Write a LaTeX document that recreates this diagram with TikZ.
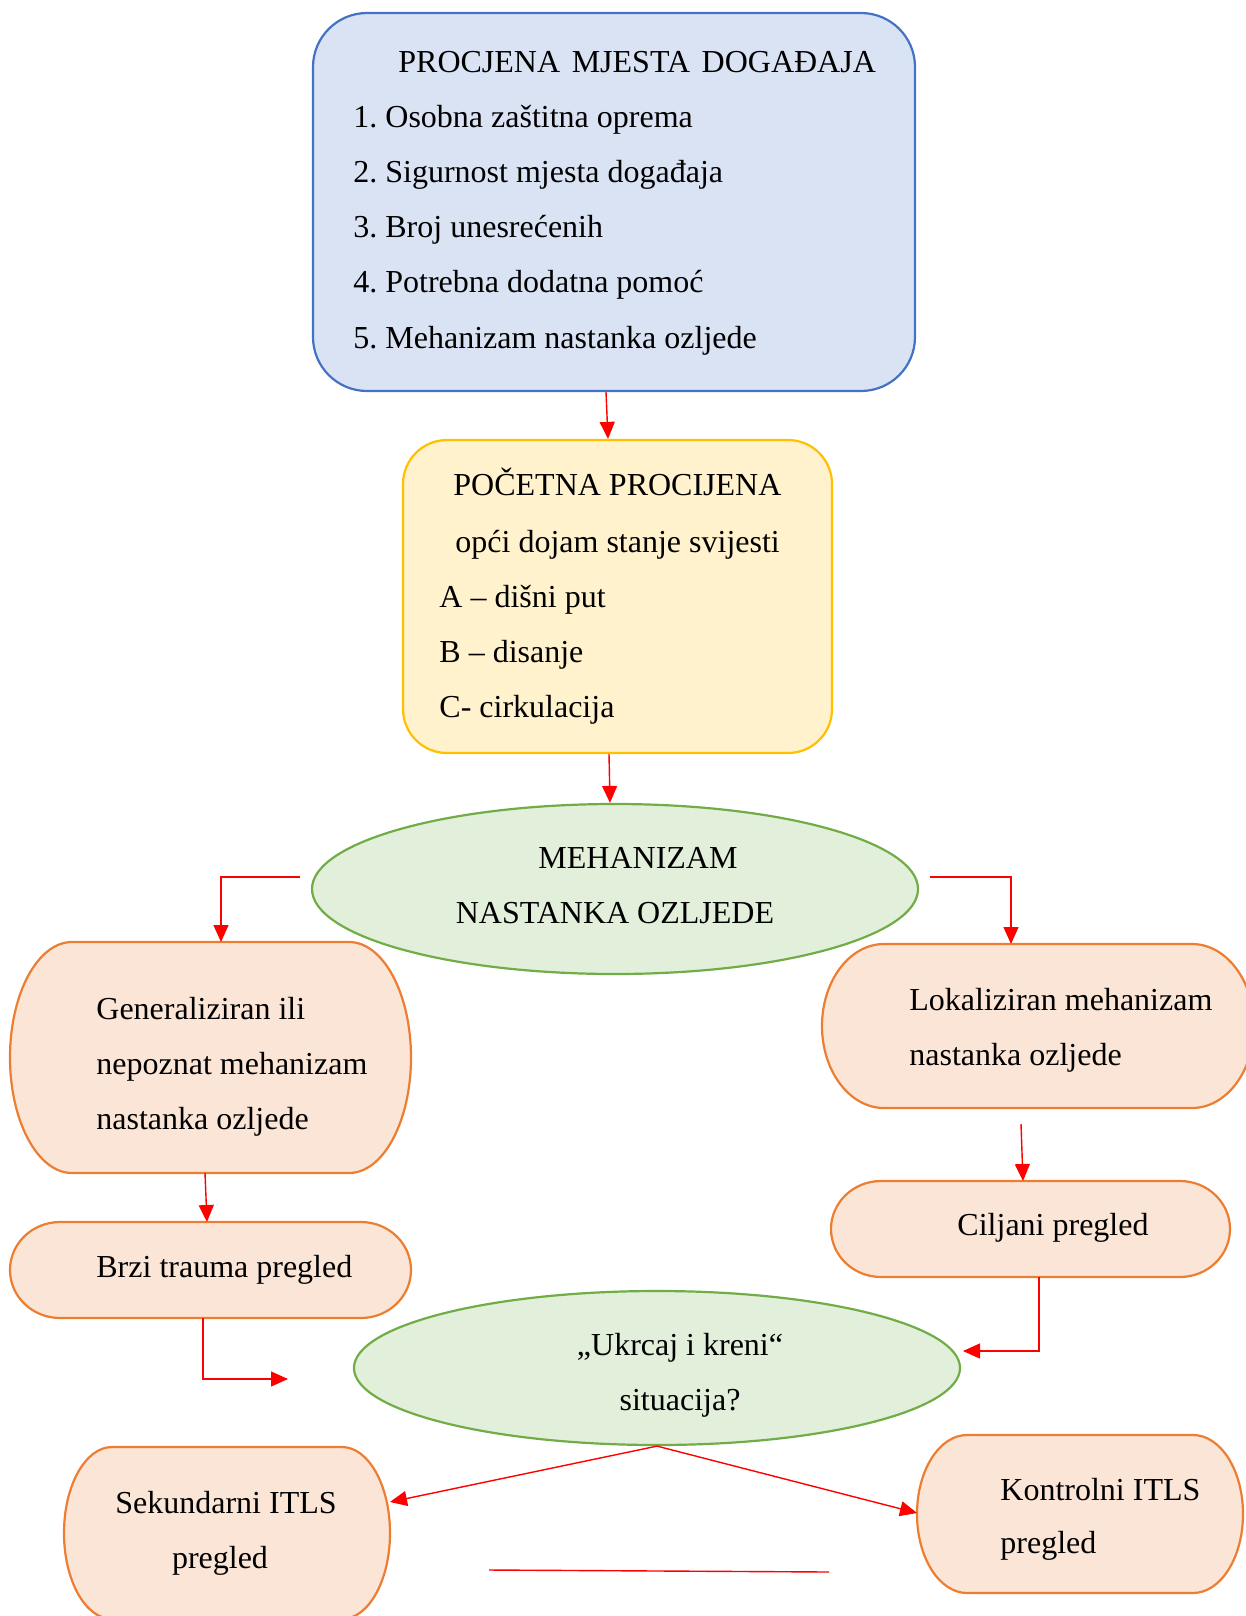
\documentclass[tikz,border=0pt]{standalone}
\usepackage{fontspec}
\setmainfont{Liberation Serif}
\usetikzlibrary{arrows.meta,calc,shapes.geometric}
\frenchspacing

\definecolor{boxblue}{HTML}{DAE3F3}
\definecolor{lineblue}{HTML}{4472C4}
\definecolor{boxyellow}{HTML}{FFF2CC}
\definecolor{lineyellow}{HTML}{FFC000}
\definecolor{boxgreen}{HTML}{E2EFDA}
\definecolor{linegreen}{HTML}{70AD47}
\definecolor{boxorange}{HTML}{FBE5D6}
\definecolor{lineorange}{HTML}{ED7D31}

% terminator outline round node #1, half-ellipse ends of x radius #2
\newcommand{\termframe}[2]{%
  \filldraw[termline] let \p1 = (#1.north west), \p2 = (#1.south east), \n1 = {(\y1-\y2)/2} in
    (\x1+#2,\y1) -- (\x2-#2,\y1)
    arc[start angle=90, end angle=-90, x radius=#2, y radius=\n1]
    -- (\x1+#2,\y2)
    arc[start angle=270, end angle=90, x radius=#2, y radius=\n1] -- cycle;
}

\begin{document}
\begin{tikzpicture}
        [
            x=0.5pt, y=-0.5pt,
            font=\fontsize{16pt}{20pt}\selectfont,
            redline/.style={draw=red, line width=0.7pt},
            redarrow/.style={redline, -{Triangle[length=8.5pt, width=7.5pt]}},
            txt/.style={anchor=west, inner sep=0pt, text height=12.5pt, text depth=2pt},
            ctxt/.style={txt, anchor=center},
            roundbox/.style={rectangle, line width=1.1pt},
            termbox/.style={rectangle, inner sep=0pt, outer sep=0pt},
            termline/.style={line width=1.1pt, draw=lineorange, fill=boxorange},
            oval/.style={ellipse, draw=linegreen, fill=boxgreen, line width=1.1pt, inner sep=0pt},
        ]
        \useasboundingbox (0,0) rectangle (1246,1616);

        % shapes
        \node[roundbox, draw=lineblue, fill=boxblue, rounded corners=27pt,
            minimum width=301pt, minimum height=189pt] (scene) at (614,202) {};
        \node[roundbox, draw=lineyellow, fill=boxyellow, rounded corners=22pt,
            minimum width=214.5pt, minimum height=156.5pt] (initial) at (617.5,596.5) {};
        \node[oval, minimum width=303pt, minimum height=85pt] (mech) at (615,889) {};
        \node[termbox, minimum width=200.5pt, minimum height=115.5pt] (general) at (210.5,1057.5) {};
        \node[termbox, minimum width=216pt, minimum height=82pt] (local) at (1038,1026) {};
        \node[termbox, minimum width=200.5pt, minimum height=48pt] (rapid) at (210.5,1270) {};
        \node[termbox, minimum width=199.5pt, minimum height=48pt] (focused) at (1030.5,1229) {};
        \node[oval, minimum width=303pt, minimum height=77pt] (loadgo) at (657,1368) {};
        \node[termbox, minimum width=163pt, minimum height=86pt] (secondary) at (227,1533) {};
        \node[termbox, minimum width=163pt, minimum height=79pt] (control) at (1080,1514) {};
        \termframe{general}{31pt}
        \termframe{local}{31pt}
        \termframe{rapid}{25pt}
        \termframe{focused}{25pt}
        \termframe{secondary}{24pt}
        \termframe{control}{25pt}

        % texts
        \node[txt] (scene0) at (398,62) {PROCJENA\hspace{1.8pt} MJESTA\hspace{1.8pt} DOGAĐAJA};
        \foreach \txt [count=\i] in {1. Osobna zaštitna oprema, 2. Sigurnost mjesta događaja,
            3. Broj unesrećenih, 4. Potrebna dodatna pomoć, 5. Mehanizam nastanka ozljede}
            \node[txt] (scene\i) at (353, 61.5+55.2*\i) {\txt};
        \node[txt] (initial0) at (453,485) {POČETNA PROCIJENA};
        \node[txt] (initial1) at (455,542) {opći dojam stanje svijesti};
        \node[txt] (initial2) at (439,597) {A -- dišni put};
        \node[txt] (initial3) at (439,652) {B -- disanje};
        \node[txt] (initial4) at (439,707) {C- cirkulacija};
        \node[ctxt] (mech1) at (638,858) {MEHANIZAM};
        \node[ctxt] (mech2) at (615,913) {NASTANKA OZLJEDE};
        \node[txt] (general1) at (96,1009) {Generaliziran ili};
        \node[txt] (general2) at (96,1064) {nepoznat mehanizam};
        \node[txt] (general3) at (96,1119) {nastanka ozljede};
        \node[txt] (local1) at (909,1000) {Lokaliziran mehanizam};
        \node[txt] (local2) at (909,1055) {nastanka ozljede};
        \node[txt] (rapid1) at (96,1267) {Brzi trauma pregled};
        \node[ctxt] (focused1) at (1053,1225) {Ciljani pregled};
        \node[ctxt] (loadgo1) at (680,1345) {„Ukrcaj i kreni“};
        \node[ctxt] (loadgo2) at (680,1400) {situacija?};
        \node[ctxt] (secondary1) at (226,1503) {Sekundarni ITLS};
        \node[ctxt] (secondary2) at (220,1558) {pregled};
        \node[txt] (control1) at (1000,1490) {Kontrolni ITLS};
        \node[txt] (control2) at (1000,1543) {pregled};

        % connectors
        \coordinate (mechL) at (300,877);
        \coordinate (mechR) at (930,877);
        \coordinate (localB) at (1021,1124);
        \coordinate (rapidE) at (288,1379);
        \coordinate (focusedE) at (963,1351);
        \coordinate (lineA) at (489,1570);
        \coordinate (lineB) at (829,1572);
        \draw[redarrow] (606,0 |- scene.south) -- (608,0 |- initial.north);
        \draw[redarrow] (609,0 |- initial.south) -- (610,0 |- mech.north);
        \draw[redarrow] (mechL) -| (221,0 |- general.north);
        \draw[redarrow] (mechR) -| (1011,0 |- local.north);
        \draw[redarrow] (localB) -- (1023,0 |- focused.north);
        \draw[redarrow] (205,0 |- general.south) -- (207,0 |- rapid.north);
        \draw[redarrow] (203,0 |- rapid.south) |- (rapidE);
        \draw[redarrow] (1039,0 |- focused.south) |- (focusedE);
        \draw[redarrow] (loadgo.south) -- (secondary.east |- 0,1502);
        \draw[redarrow] (loadgo.south) -- (control.west |- 0,1513);
        \draw[redline] (lineA) -- (lineB);
    \end{tikzpicture}
\end{document}
